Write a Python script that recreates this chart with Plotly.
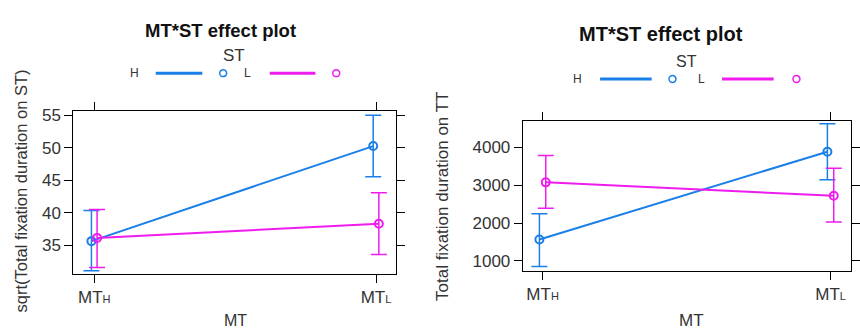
import plotly.graph_objects as go

# ---- data ----
mt_labels = ["MT<span style='font-size:11px'>H</span>", "MT<span style='font-size:11px'>L</span>"]
st_levels = ["H", "L"]

# left panel: sqrt(Total fixation duration on ST)
left_H = [35.65, 50.26]
left_H_lo = [31.1, 45.55]
left_H_hi = [40.35, 55.0]
left_L = [36.15, 38.33]
left_L_lo = [31.6, 33.6]
left_L_hi = [40.5, 43.1]
left_yticks = [35, 40, 45, 50, 55]

# right panel: Total fixation duration on TT
right_H = [1567, 3888]
right_H_lo = [851, 3150]
right_H_hi = [2245, 4627]
right_L = [3078, 2721]
right_L_lo = [2390, 2026]
right_L_hi = [3791, 3452]
right_yticks = [1000, 2000, 3000, 4000]

BLUE = "#1a7fe8"
PINK = "#ee1cee"
FONT = "Liberation Sans"
TXT = "#222222"
W, H = 860, 329

fig = go.Figure()

def add_series(xaxis, yaxis, vals, lo, hi, color, offset):
    xs = [i + offset for i in range(len(vals))]
    fig.add_trace(go.Scatter(
        x=xs, y=vals, xaxis=xaxis, yaxis=yaxis, mode="lines+markers",
        line=dict(color=color, width=2),
        marker=dict(symbol="circle-open", size=8, color=color, line=dict(width=2, color=color)),
        error_y=dict(type="data", symmetric=False,
                     array=[h - v for h, v in zip(hi, vals)],
                     arrayminus=[v - l for v, l in zip(vals, lo)],
                     color=color, thickness=1.5, width=8),
        showlegend=False, hoverinfo="skip"))

add_series("x", "y", left_H, left_H_lo, left_H_hi, BLUE, -0.01)
add_series("x", "y", left_L, left_L_lo, left_L_hi, PINK, 0.01)
add_series("x2", "y2", right_H, right_H_lo, right_H_hi, BLUE, -0.011)
add_series("x2", "y2", right_L, right_L_lo, right_L_hi, PINK, 0.011)

def px(x):
    return x / W

def py(y):
    return (H - y) / H

axis_common = dict(showline=True, linecolor="black", linewidth=1, mirror="ticks",
                   ticks="outside", ticklen=8, tickcolor="black", showgrid=False,
                   zeroline=False, tickfont=dict(family=FONT, size=17, color="#333333"))

fig.update_layout(
    width=W, height=H, margin=dict(l=0, r=0, t=0, b=0),
    paper_bgcolor="white", plot_bgcolor="white",
    xaxis=dict(domain=[px(74), px(399)], range=[-0.074, 1.07],
               tickvals=[0, 1], ticktext=mt_labels, anchor="y", **axis_common),
    yaxis=dict(domain=[py(273), py(108)], range=[30.65, 55.7],
               tickvals=left_yticks, anchor="x", **axis_common),
    xaxis2=dict(domain=[px(527), px(858)], range=[-0.069, 1.071],
                tickvals=[0, 1], ticktext=mt_labels, anchor="y2", **axis_common),
    yaxis2=dict(domain=[py(270), py(118)], range=[739, 4713],
                tickvals=right_yticks, anchor="x2", **axis_common),
)

ann = []
def text(x, y, s, size=14, bold=False, angle=0, color=TXT):
    ann.append(dict(x=px(x), y=py(y), xref="paper", yref="paper", text=("<b>%s</b>" % s) if bold else s,
                    showarrow=False, xanchor="center", yanchor="middle", textangle=angle,
                    font=dict(family=FONT, size=size, color=color)))

# titles
text(222, 27, "MT*ST effect plot", 18.5, True, color="#111111")
text(666, 30, "MT*ST effect plot", 20, True, color="#111111")
# legend headings
text(236, 52, "ST", 17, color="#333333")
text(692, 58, "ST", 16, color="#333333")
# axis titles
text(237, 320, "MT", 16, color="#333333")
text(697, 320, "MT", 17, color="#333333")
text(21, 189, "sqrt(Total fixation duration on ST)", 16.5, angle=-90, color="#333333")
text(446, 195, "Total fixation duration on TT", 17, angle=-90, color="#333333")

shapes = []
def legend_row(y, xH, line1, circ1, xL, line2, circ2):
    text(xH, y, st_levels[0], 12, color="#333333")
    text(xL, y, st_levels[1], 12, color="#333333")
    for (a, b), c, col in [(line1, circ1, BLUE), (line2, circ2, PINK)]:
        shapes.append(dict(type="line", xref="paper", yref="paper", x0=px(a), x1=px(b),
                           y0=py(y), y1=py(y), line=dict(color=col, width=3)))
        shapes.append(dict(type="circle", xref="paper", yref="paper", x0=px(c - 3.5), x1=px(c + 3.5),
                           y0=py(y + 3.5), y1=py(y - 3.5), line=dict(color=col, width=1.5)))

legend_row(70, 136, (157, 204), 225, 250, (272, 318), 339)
legend_row(76, 582, (605, 657), 678, 707, (728, 780), 803)

fig.update_layout(annotations=ann, shapes=shapes)
fig.write_html("out.html")
